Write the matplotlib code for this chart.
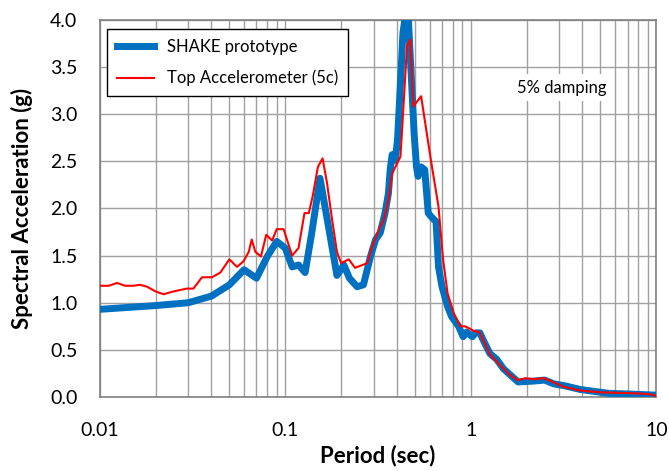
import matplotlib
matplotlib.use("Agg")
import matplotlib.pyplot as plt
from matplotlib.ticker import FixedLocator, FixedFormatter, LogLocator, MultipleLocator

plt.rcParams['font.family'] = ['Lato', 'DejaVu Sans']

# SHAKE prototype spectrum (period in sec, Sa in g)
shake_period = [0.01, 0.02, 0.03, 0.04, 0.05, 0.06, 0.07, 0.08, 0.09, 0.1,
                0.109, 0.118, 0.128, 0.139, 0.154, 0.171, 0.19, 0.207, 0.222, 0.244,
                0.264, 0.288, 0.307, 0.325, 0.345, 0.36, 0.368, 0.377, 0.392, 0.403,
                0.418, 0.431, 0.445, 0.46, 0.48, 0.495, 0.51, 0.52, 0.54, 0.565,
                0.59, 0.62, 0.65, 0.67, 0.70, 0.75, 0.79, 0.86, 0.91, 0.95,
                1.02, 1.06, 1.12, 1.19, 1.27, 1.38, 1.5, 1.8, 2.2, 2.5,
                2.8, 3.2, 3.9, 5.5, 7.6, 10]
shake_sa = [0.93, 0.97, 1.0, 1.07, 1.19, 1.35, 1.26, 1.49, 1.65, 1.58,
            1.38, 1.40, 1.32, 1.74, 2.32, 1.81, 1.29, 1.40, 1.26, 1.17,
            1.19, 1.49, 1.67, 1.74, 1.95, 2.16, 2.41, 2.57, 2.51, 2.73,
            3.33, 3.86, 4.05, 4.05, 3.33, 2.8, 2.44, 2.34, 2.44, 2.41,
            1.95, 1.9, 1.86, 1.38, 1.17, 0.96, 0.85, 0.75, 0.64, 0.69,
            0.64, 0.68, 0.68, 0.57, 0.46, 0.40, 0.30, 0.16, 0.17, 0.18,
            0.14, 0.12, 0.08, 0.04, 0.03, 0.02]

# Top accelerometer (5c) record
accel_period = [0.01, 0.0112, 0.0124, 0.0137, 0.0152, 0.0165, 0.018, 0.02, 0.0221, 0.025,
                0.0295, 0.032, 0.0356, 0.0403, 0.0447, 0.05, 0.055, 0.0596, 0.0636, 0.066,
                0.069, 0.074, 0.079, 0.085, 0.09, 0.098, 0.109, 0.118, 0.127, 0.134,
                0.141, 0.15, 0.159, 0.168, 0.178, 0.19, 0.2, 0.22, 0.238, 0.277,
                0.293, 0.325, 0.34, 0.36, 0.377, 0.418, 0.435, 0.453, 0.472, 0.49,
                0.54, 0.61, 0.67, 0.71, 0.75, 0.81, 0.88, 0.93, 0.98, 1.04,
                1.11, 1.17, 1.27, 1.36, 1.47, 1.61, 1.79, 1.97, 2.18, 2.47,
                2.78, 3.15, 3.88, 5.0, 7.6, 9.3, 10]
accel_sa = [1.18, 1.18, 1.21, 1.18, 1.18, 1.19, 1.17, 1.12, 1.09, 1.12,
            1.15, 1.15, 1.27, 1.27, 1.32, 1.46, 1.38, 1.44, 1.54, 1.67,
            1.54, 1.49, 1.72, 1.66, 1.78, 1.78, 1.50, 1.58, 1.95, 1.95,
            2.14, 2.44, 2.53, 2.27, 1.91, 1.54, 1.42, 1.46, 1.37, 1.42,
            1.59, 1.81, 1.88, 2.09, 2.37, 2.55, 3.12, 3.72, 3.79, 3.08,
            3.19, 2.51, 2.02, 1.45, 1.10, 0.89, 0.75, 0.75, 0.73, 0.70,
            0.69, 0.60, 0.45, 0.39, 0.32, 0.24, 0.18, 0.20, 0.19, 0.20,
            0.16, 0.11, 0.07, 0.05, 0.04, 0.03, 0.01]

x_ticks = [0.01, 0.1, 1, 10]
x_tick_labels = ["0.01", "0.1", "1", "10"]

fig = plt.figure(figsize=(6.69, 4.71), dpi=100)
ax = fig.add_axes([0.149, 0.157, 0.832, 0.801])

ax.plot(shake_period, shake_sa, color="#0070C0", linewidth=5, label="SHAKE prototype",
        solid_joinstyle="round", zorder=3)
ax.plot(accel_period, accel_sa, color="#FF0000", linewidth=1.5, label="Top Accelerometer (5c)",
        zorder=4)

ax.set_xscale("log")
ax.set_xlim(0.01, 10)
ax.set_ylim(0, 4.0)
ax.xaxis.set_major_locator(FixedLocator(x_ticks))
ax.xaxis.set_major_formatter(FixedFormatter(x_tick_labels))
ax.xaxis.set_minor_locator(LogLocator(base=10, subs=range(2, 10)))
ax.xaxis.set_minor_formatter(FixedFormatter([]))
ax.yaxis.set_major_locator(MultipleLocator(0.5))
ax.yaxis.set_major_formatter(plt.FuncFormatter(lambda v, p: f"{v:.1f}"))

ax.grid(True, which="both", axis="x", color="#A0A0A0", linewidth=1)
ax.grid(True, which="major", axis="y", color="#A0A0A0", linewidth=1)
ax.set_axisbelow(True)
ax.tick_params(which="both", length=0, labelsize=14)
ax.tick_params(axis="x", pad=18)
ax.tick_params(axis="y", pad=16)
for s in ax.spines.values():
    s.set_color("#808080")
    s.set_linewidth(1.2)

ax.set_xlabel("Period (sec)", fontsize=16, fontweight="bold", labelpad=4)
ax.set_ylabel("Spectral Acceleration (g)", fontsize=16, fontweight="bold", labelpad=12)

leg = ax.legend(loc="upper left", bbox_to_anchor=(0.013, 0.976), borderaxespad=0,
                fontsize=12, fancybox=False, framealpha=1, edgecolor="black",
                handlelength=2.2, borderpad=0.6, labelspacing=0.9)
leg.get_frame().set_linewidth(1)

ax.text(0.83, 0.82, "5% damping", transform=ax.transAxes, fontsize=12,
        ha="center", va="center",
        bbox=dict(facecolor="white", edgecolor="none", pad=4))

fig.savefig("out.png", dpi=100)
